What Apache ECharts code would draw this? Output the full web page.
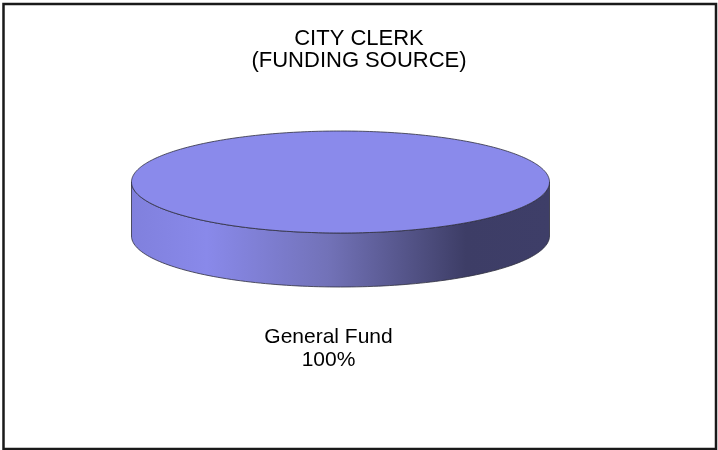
<!DOCTYPE html>
<html>
<head>
<meta charset="utf-8">
<script src="https://cdn.jsdelivr.net/npm/echarts@6/dist/echarts.min.js"></script>
<style>
  html, body { margin: 0; padding: 0; background: #ffffff; }
  #chart { width: 718px; height: 450px; }
</style>
</head>
<body>
<div id="chart"></div>
<script>
// Funding sources and their shares
const categories = ['General Fund'];
const values = [100];
const titleLines = ['CITY CLERK', '(FUNDING SOURCE)'];

// Geometry of the tilted pie (pixels)
const CX = 340.5, CY = 182, RX = 209, RY = 51, DEPTH = 54;
const FONT = '"Liberation Sans", Arial, sans-serif';
const TOP_COLORS = ['#8a8aeb'];
const total = values.reduce((a, b) => a + b, 0);

function pt(a, dy) {
  return [CX + RX * Math.cos(a), CY + dy + RY * Math.sin(a)];
}
function arcPts(a0, a1, dy, steps) {
  const out = [];
  for (let i = 0; i <= steps; i++) {
    out.push(pt(a0 + (a1 - a0) * i / steps, dy));
  }
  return out;
}

function renderItem(params, api) {
  const i = params.dataIndex;
  const v = api.value(0);
  let before = 0;
  for (let k = 0; k < i; k++) before += values[k];
  const a0 = -Math.PI / 2 + 2 * Math.PI * before / total;
  const a1 = a0 + 2 * Math.PI * v / total;
  const full = v >= total;
  const children = [];

  // Side wall: only the front half (screen angles 0..PI) is visible
  const s0 = full ? 0 : Math.max(a0, 0);
  const s1 = full ? Math.PI : Math.min(a1, Math.PI);
  if (s1 > s0) {
    const topEdge = arcPts(s0, s1, 0, 120);
    const botEdge = arcPts(s1, s0, DEPTH, 120);
    children.push({
      type: 'polygon',
      shape: { points: topEdge.concat(botEdge) },
      style: {
        fill: {
          type: 'linear', global: true,
          x: CX - RX, y: 0, x2: CX + RX, y2: 0,
          colorStops: [
            { offset: 0, color: '#8080dd' },
            { offset: 0.18, color: '#8989ea' },
            { offset: 0.47, color: '#7272b8' },
            { offset: 0.71, color: '#4c4c7c' },
            { offset: 0.8, color: '#3d3d66' },
            { offset: 1, color: '#3e3e68' }
          ]
        },
        stroke: '#2e2e3e',
        lineWidth: 0.8
      }
    });
  }

  // Top face
  let topPts;
  if (full) {
    topPts = arcPts(0, 2 * Math.PI, 0, 360);
  } else {
    topPts = [[CX, CY]].concat(arcPts(a0, a1, 0, 240));
  }
  children.push({
    type: 'polygon',
    shape: { points: topPts },
    style: { fill: TOP_COLORS[i % TOP_COLORS.length], stroke: '#2e2e3e', lineWidth: 0.8 }
  });

  // Category label with its share
  const mid = (a0 + a1) / 2;
  const pct = Math.round(v / total * 100) + '%';
  const lp = [CX - 12 + (RX + 40) * Math.cos(mid), CY + DEPTH + (RY + 62) * Math.sin(mid)];
  children.push({
    type: 'text',
    style: {
      text: categories[i] + '\n' + pct,
      x: lp[0], y: lp[1],
      align: 'center', verticalAlign: 'middle',
      font: '21px ' + FONT,
      lineHeight: 23,
      fill: '#000000'
    }
  });

  return { type: 'group', children: children };
}

const chart = echarts.init(document.getElementById('chart'), null, { renderer: 'canvas' });
chart.setOption({
  animation: false,
  backgroundColor: '#ffffff',
  title: {
    text: titleLines.join('\n'),
    left: 354,
    top: 23,
    textAlign: 'center',
    textStyle: {
      fontFamily: FONT,
      fontSize: 22,
      fontWeight: 'normal',
      color: '#000000',
      lineHeight: 22
    }
  },
  graphic: [{
    type: 'rect',
    shape: { x: 3.5, y: 4, width: 712.5, height: 445 },
    style: { fill: 'none', stroke: '#1a1a1a', lineWidth: 2.5 },
    silent: true
  }],
  series: [{
    type: 'custom',
    coordinateSystem: 'none',
    renderItem: renderItem,
    data: values.map((v, i) => ({ name: categories[i], value: [v, i] }))
  }]
});
</script>
</body>
</html>
